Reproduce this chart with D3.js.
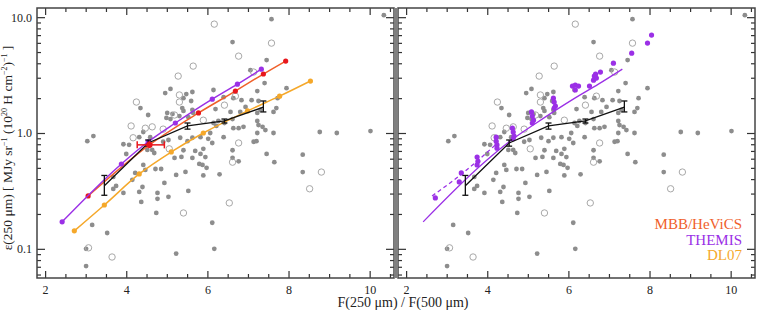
<!DOCTYPE html>
<html>
<head>
<meta charset="utf-8">
<script src="https://cdn.jsdelivr.net/npm/d3@7"></script>
<style>
  body { margin: 0; background: #fff; }
  text { font-family: "Liberation Serif", serif; fill: #222; }
</style>
</head>
<body>
<script>
// grey scatter (same in both panels): [F250/F500, emissivity]
var greyFilled = [
  [3.04,0.85],[3.19,0.94],[3.16,0.161],[3.53,0.137],[3.01,0.100],[3.01,0.071],[5.23,0.091],
  [6.12,0.168],[6.17,0.100],[3.68,0.418],[3.75,0.349],[3.93,0.304],[3.68,0.329],[4.00,0.659],
  [4.22,0.452],[4.15,0.394],[4.32,0.310],[4.40,0.342],[4.37,0.254],[4.42,0.530],[4.77,0.304],
  [4.77,0.270],[4.74,0.204],[4.94,0.371],[5.04,0.281],[5.46,0.461],[5.23,0.435],[5.53,0.316],
  [5.80,0.541],[4.52,0.714],[4.64,0.714],[4.69,0.672],[5.19,0.609],[5.36,0.621],[5.63,0.609],
  [4.86,0.489],[4.72,0.489],[4.47,0.48],[3.93,0.80],[4.07,0.79],[4.32,0.92],[4.59,0.92],
  [4.91,0.84],[5.04,0.87],[5.33,0.91],[5.51,0.85],[5.63,0.91],[4.42,1.02],[5.09,2.40],
  [4.96,2.21],[5.41,2.00],[5.48,2.17],[5.63,2.26],[5.60,1.89],[5.38,1.64],[5.41,1.55],
  [4.35,1.64],[4.54,1.43],[5.01,1.49],[5.14,1.46],[4.99,1.35],[5.09,1.32],[5.31,1.40],
  [5.53,1.37],[5.65,1.49],[7.58,9.61],[10.35,10.4],[6.62,6.09],[7.46,4.26],[7.06,3.49],
  [7.41,2.70],[7.23,2.30],[7.95,2.44],[7.73,2.00],[7.70,1.64],[7.63,1.52],[6.15,2.35],
  [6.40,2.04],[6.64,2.00],[6.84,1.92],[7.09,1.92],[7.26,1.89],[6.94,1.68],[6.20,1.61],
  [6.57,1.52],[6.62,1.32],[7.23,1.49],[6.27,1.27],[6.15,1.22],[6.42,1.22],[6.22,1.15],
  [6.64,1.10],[6.77,1.10],[6.89,1.13],[7.23,1.27],[7.26,1.17],[7.36,1.13],[7.23,1.00],
  [7.43,1.06],[7.63,1.00],[6.40,0.92],[7.14,0.84],[7.21,0.85],[7.46,0.66],[8.35,0.65],
  [8.77,1.02],[9.19,1.00],[10.02,1.04],[6.07,1.00],[6.12,0.82],[5.83,0.92],[5.70,0.70],
  [5.95,0.62],[6.02,0.89],[5.90,0.73],[5.83,0.66],[6.62,0.71],[6.62,0.61],[6.77,0.57],
  [7.65,0.56],[5.88,0.53],[5.98,0.50],[5.90,0.43],[6.30,0.44],[8.35,0.46],[5.63,1.58],
  [5.41,0.71],[6.81,1.52],[7.31,1.58]
];
var greyOpen = [
  [3.07,0.102],[3.65,0.085],[5.41,0.204],[6.54,0.249],[4.17,0.91],[5.06,0.73],[5.65,3.78],
  [5.28,3.10],[5.31,2.13],[5.31,1.85],[4.25,1.85],[5.19,1.43],[4.12,1.15],[4.47,1.10],
  [4.64,1.13],[4.91,1.08],[6.17,8.71],[7.58,5.97],[6.77,4.61],[7.14,3.36],[6.69,2.08],
  [6.42,1.74],[5.90,1.29],[6.77,0.82],[6.62,0.56],[8.81,0.46],[8.52,0.33]
];

// binned median (black, both panels)
var binX   = [3.46, 4.54, 5.51, 6.42, 7.38];
var binY   = [0.35, 0.82, 1.15, 1.27, 1.67];
var binLo  = [0.29, 0.77, 1.08, 1.22, 1.52];
var binHi  = [0.43, 0.87, 1.22, 1.32, 1.89];

// left panel model tracks
var themisX = [2.42, 3.88, 4.54, 5.21, 6.12, 6.74, 7.33];
var themisY = [0.171, 0.54, 0.84, 1.22, 1.96, 2.64, 3.56];
var mbbX = [3.06, 4.57, 5.78, 6.69, 7.38, 7.93];
var mbbY = [0.286, 0.79, 1.49, 2.30, 3.23, 4.18];
var dl07X = [2.72, 3.46, 4.32, 5.11, 5.90, 6.99, 7.78, 8.54];
var dl07Y = [0.143, 0.239, 0.443, 0.686, 1.00, 1.55, 2.08, 2.81];
// HeViCS point with errors
var hevicsPt = {x: 4.57, y: 0.79, xlo: 4.27, xhi: 4.94, ylo: 0.74, yhi: 0.85};

// right panel: THEMIS dashed track and element fits
var themisDashX = [2.64, 3.36, 4.22];
var themisDashY = [0.286, 0.440, 0.80];
var themisDots = [
  [2.72,0.275],[3.31,0.378],[3.36,0.452],[3.75,0.62],[3.77,0.57],[3.75,0.53],
  [4.22,0.92],[4.22,0.85],[4.24,0.79],[4.24,0.74],
  [4.62,1.10],[4.64,1.02],[4.66,0.94],[4.64,0.89],
  [5.09,1.52],[5.11,1.40],[5.14,1.29],[5.11,1.22],
  [5.63,2.00],[5.65,1.85],[5.68,1.71],[5.65,1.64],
  [6.10,2.54],[6.17,2.59],[6.25,2.54],[6.17,2.35],[6.52,2.54],
  [6.62,2.86],[6.64,3.10],[6.67,3.22],[6.69,2.98],
  [6.79,3.36],[7.11,4.01],[7.56,4.89],[7.95,5.97],[8.05,7.0]
];

var legendNames = ["MBB/HeViCS", "THEMIS", "DL07"];
var xMajor = [2, 4, 6, 8, 10];
var yMajor = [0.1, 1, 10];
var yMajorLabels = ["0.1", "1.0", "10.0"];

var purple = "#9b30e6", mbbLine = "#f0602a", red = "#e8161c", orange = "#f5a82a";
var legendColors = [mbbLine, purple, orange];

var svg = d3.select("body").append("svg")
    .attr("width", 761).attr("height", 310);

var plotTop = 8, plotBottom = 278;
var y = d3.scaleLog().domain([0.056, 12]).range([plotBottom, plotTop]);

var xMinor = d3.range(2, 10.6, 0.5).filter(function(v) { return v % 2 !== 0; });
var yMinor = [];
[0.01, 0.1, 1].forEach(function(d) {
  for (var k = 2; k <= 9; k++) {
    var v = +(d * k).toPrecision(3);
    if (v > 0.056 && v < 12) yMinor.push(v);
  }
});

function frame(x, x0, x1, yLabels) {
  var g = svg.append("g").attr("class", "frame");
  function ax(axis, tx, ty) {
    var a = g.append("g").attr("transform", "translate(" + tx + "," + ty + ")").call(axis);
    a.select(".domain").remove();
    a.selectAll("line").attr("stroke", "#333").attr("stroke-width", 1.2);
    return a;
  }
  // bottom
  ax(d3.axisBottom(x).tickValues(xMajor).tickSize(-7).tickPadding(7).tickFormat(d3.format("d")), 0, plotBottom)
    .selectAll("text").style("font-size", "12px").attr("fill", "#222");
  ax(d3.axisBottom(x).tickValues(xMinor).tickSize(-4).tickFormat(""), 0, plotBottom);
  // top
  ax(d3.axisTop(x).tickValues(xMajor).tickSize(-7).tickFormat(""), 0, plotTop);
  ax(d3.axisTop(x).tickValues(xMinor).tickSize(-4).tickFormat(""), 0, plotTop);
  // left
  var la = ax(d3.axisLeft(y).tickValues(yMajor).tickSize(-8).tickPadding(5)
      .tickFormat(function(d, i) { return yLabels ? yMajorLabels[i] : ""; }), x0, 0);
  la.selectAll("text").style("font-size", "12px").attr("fill", "#222");
  ax(d3.axisLeft(y).tickValues(yMinor).tickSize(-4).tickFormat(""), x0, 0);
  // right
  ax(d3.axisRight(y).tickValues(yMajor).tickSize(-8).tickFormat(""), x1, 0);
  ax(d3.axisRight(y).tickValues(yMinor).tickSize(-4).tickFormat(""), x1, 0);

  g.append("rect")
    .attr("x", x0).attr("y", plotTop)
    .attr("width", x1 - x0).attr("height", plotBottom - plotTop)
    .attr("fill", "none").attr("stroke", "#444").attr("stroke-width", 1.5);
}

function scatter(g, x) {
  g.selectAll(".gf").data(greyFilled).enter().append("circle")
    .attr("cx", function(d) { return x(d[0]); })
    .attr("cy", function(d) { return y(d[1]); })
    .attr("r", 2.4).attr("fill", "#8d8d8d");
  g.selectAll(".go").data(greyOpen).enter().append("circle")
    .attr("cx", function(d) { return x(d[0]); })
    .attr("cy", function(d) { return y(d[1]); })
    .attr("r", 3.2).attr("fill", "none").attr("stroke", "#a8a8a8").attr("stroke-width", 1);
}

function track(g, x, xs, ys, color, width, dash) {
  var pts = xs.map(function(v, i) { return [v, ys[i]]; });
  g.append("path")
    .datum(pts)
    .attr("fill", "none").attr("stroke", color).attr("stroke-width", width)
    .attr("stroke-dasharray", dash || null)
    .attr("d", d3.line()
      .x(function(d) { return x(d[0]); })
      .y(function(d) { return y(d[1]); })
      .curve(d3.curveMonotoneX));
  return pts;
}

function dots(g, x, pts, color, r) {
  g.selectAll(null).data(pts).enter().append("circle")
    .attr("cx", function(d) { return x(d[0]); })
    .attr("cy", function(d) { return y(d[1]); })
    .attr("r", r).attr("fill", color);
}

function medianLine(g, x) {
  var pts = binX.map(function(v, i) { return [v, binY[i]]; });
  g.append("path").datum(pts)
    .attr("fill", "none").attr("stroke", "#111").attr("stroke-width", 1.3)
    .attr("d", d3.line().x(function(d) { return x(d[0]); }).y(function(d) { return y(d[1]); }));
  binX.forEach(function(v, i) {
    var cx = x(v);
    g.append("line").attr("x1", cx).attr("x2", cx).attr("y1", y(binLo[i])).attr("y2", y(binHi[i]))
      .attr("stroke", "#111").attr("stroke-width", 1.3);
    [binLo[i], binHi[i]].forEach(function(e) {
      g.append("line").attr("x1", cx - 3).attr("x2", cx + 3).attr("y1", y(e)).attr("y2", y(e))
        .attr("stroke", "#111").attr("stroke-width", 1.3);
    });
  });
}

// ---- left panel
var xL = d3.scaleLinear().domain([1.8, 10.6]).range([37, 394]);
var gL = svg.append("g");
scatter(gL, xL);
dots(gL, xL, track(gL, xL, dl07X, dl07Y, orange, 1.5), orange, 2.6);
dots(gL, xL, track(gL, xL, mbbX, mbbY, mbbLine, 1.5), red, 2.6);
dots(gL, xL, track(gL, xL, themisX, themisY, purple, 1.5), purple, 2.6);
medianLine(gL, xL);

// HeViCS error point
var hx = xL(hevicsPt.x), hy = y(hevicsPt.y);
gL.append("line").attr("x1", xL(hevicsPt.xlo)).attr("x2", xL(hevicsPt.xhi)).attr("y1", hy).attr("y2", hy)
  .attr("stroke", red).attr("stroke-width", 1.5);
[hevicsPt.xlo, hevicsPt.xhi].forEach(function(e) {
  gL.append("line").attr("x1", xL(e)).attr("x2", xL(e)).attr("y1", hy - 3.5).attr("y2", hy + 3.5)
    .attr("stroke", red).attr("stroke-width", 1.5);
});
gL.append("line").attr("x1", hx).attr("x2", hx).attr("y1", y(hevicsPt.ylo)).attr("y2", y(hevicsPt.yhi))
  .attr("stroke", red).attr("stroke-width", 1.5);
gL.append("circle").attr("cx", hx).attr("cy", hy).attr("r", 3.2).attr("fill", red);

frame(xL, 37, 394, true);

// ---- right panel
var xR = d3.scaleLinear().domain([1.8, 10.6]).range([398, 755]);
var gR = svg.append("g");
scatter(gR, xR);
track(gR, xR, themisX, themisY, purple, 1.3);
track(gR, xR, themisDashX, themisDashY, purple, 1.3, "4,3");
dots(gR, xR, themisDots, purple, 2.6);
medianLine(gR, xR);
frame(xR, 398, 755, false);

// shared border band
svg.append("rect").attr("x", 394).attr("y", plotTop).attr("width", 4)
  .attr("height", plotBottom - plotTop).attr("fill", "#808080");

// legend
legendNames.forEach(function(name, i) {
  svg.append("text")
    .attr("x", 742).attr("y", 229 + i * 15.5)
    .attr("text-anchor", "end")
    .style("font-size", "15px")
    .style("fill", legendColors[i])
    .text(name);
});

// axis titles
svg.append("text")
  .attr("x", 403).attr("y", 307)
  .attr("text-anchor", "middle")
  .style("font-size", "14px")
  .text("F(250 \u03bcm) / F(500 \u03bcm)");

var yt = svg.append("text")
  .attr("transform", "translate(12,148) rotate(-90)")
  .attr("text-anchor", "middle")
  .style("font-size", "13.5px");
yt.append("tspan").text("\u03b5(250 \u03bcm) [ MJy sr");
yt.append("tspan").attr("dy", -5).style("font-size", "8px").text("\u22121");
yt.append("tspan").attr("dy", 5).text(" (10");
yt.append("tspan").attr("dy", -5).style("font-size", "8px").text("20");
yt.append("tspan").attr("dy", 5).text(" H cm");
yt.append("tspan").attr("dy", -5).style("font-size", "8px").text("\u22122");
yt.append("tspan").attr("dy", 5).text(")");
yt.append("tspan").attr("dy", -5).style("font-size", "8px").text("\u22121");
yt.append("tspan").attr("dy", 5).text(" ]");
</script>
</body>
</html>
